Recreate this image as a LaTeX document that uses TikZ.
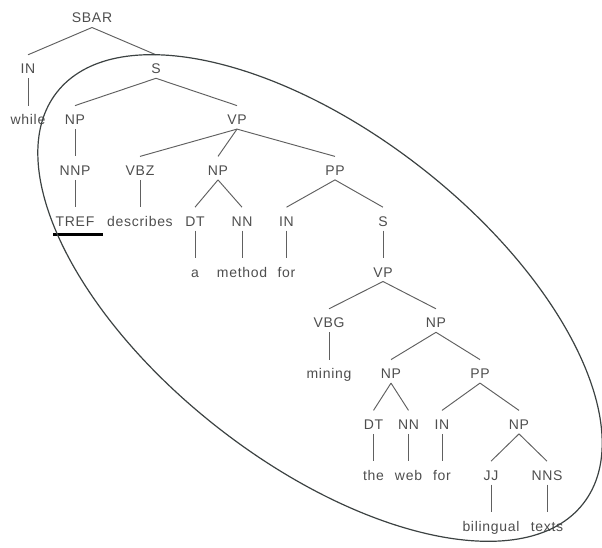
\documentclass[tikz,border=0pt]{standalone}
\usepackage{fontspec}
\setmainfont{Liberation Sans}[LetterSpace=5]
\usetikzlibrary{calc}
\definecolor{labelgray}{RGB}{78,78,78}
\definecolor{edgegray}{RGB}{96,96,96}
\definecolor{ringgray}{RGB}{60,66,66}
\tikzset{
  lbl/.style={anchor=base, inner sep=0pt, text=labelgray,
              font=\fontsize{14}{16}\selectfont},
  edge/.style={draw=edgegray, line width=0.95pt},
  ring/.style={draw=ringgray, line width=1.2pt},
  mark line/.style={draw=black, line width=3pt}
}
% parent bottom to child top
\newcommand\treeedge[2]{\draw[edge] ([yshift=-4.5pt]#1.base) -- ([yshift=19pt]#2.base);}
\begin{document}
\begin{tikzpicture}[x=1pt, y=-1pt]
\useasboundingbox (0,0) rectangle (602,548);
\def\rA{23}\def\rB{73.8}\def\rC{124.6}\def\rD{175.4}\def\rE{226.2}
\def\rF{277}\def\rG{327.8}\def\rH{378.6}\def\rI{429.4}\def\rJ{480.2}\def\rK{531}
% tree labels
\node[lbl] (sbar) at (92,\rA) {SBAR};
\node[lbl] (in1) at (28,\rB) {IN};
\node[lbl] (s1) at (156,\rB) {S};
\node[lbl] (while) at (28,\rC) {while};
\node[lbl] (np1) at (75,\rC) {NP};
\node[lbl] (vp1) at (237,\rC) {VP};
\node[lbl] (nnp) at (75,\rD) {NNP};
\node[lbl] (vbz) at (140,\rD) {VBZ};
\node[lbl] (np2) at (218,\rD) {NP};
\node[lbl] (pp1) at (335,\rD) {PP};
\node[lbl] (tref) at (75,\rE) {TREF};
\node[lbl] (describes) at (140,\rE) {describes};
\node[lbl] (dt1) at (195,\rE) {DT};
\node[lbl] (nn1) at (242,\rE) {NN};
\node[lbl] (in2) at (286.5,\rE) {IN};
\node[lbl] (s2) at (383,\rE) {S};
\node[lbl] (a) at (195,\rF) {a};
\node[lbl] (method) at (242,\rF) {method};
\node[lbl] (for1) at (286.5,\rF) {for};
\node[lbl] (vp2) at (383,\rF) {VP};
\node[lbl] (vbg) at (329,\rG) {VBG};
\node[lbl] (np3) at (436,\rG) {NP};
\node[lbl] (mining) at (329,\rH) {mining};
\node[lbl] (np4) at (391,\rH) {NP};
\node[lbl] (pp2) at (480,\rH) {PP};
\node[lbl] (dt2) at (373.5,\rI) {DT};
\node[lbl] (nn2) at (408.5,\rI) {NN};
\node[lbl] (in3) at (442,\rI) {IN};
\node[lbl] (np5) at (519,\rI) {NP};
\node[lbl] (the) at (373.5,\rJ) {the};
\node[lbl] (web) at (408.5,\rJ) {web};
\node[lbl] (for2) at (442,\rJ) {for};
\node[lbl] (jj) at (491,\rJ) {JJ};
\node[lbl] (nns) at (547,\rJ) {NNS};
\node[lbl] (bilingual) at (491,\rK) {bilingual};
\node[lbl] (texts) at (547,\rK) {texts};
% branches
\treeedge{sbar}{in1}\treeedge{sbar}{s1}
\treeedge{in1}{while}
\treeedge{s1}{np1}\treeedge{s1}{vp1}
\treeedge{np1}{nnp}\treeedge{nnp}{tref}
\treeedge{vp1}{vbz}\treeedge{vp1}{np2}\treeedge{vp1}{pp1}
\treeedge{vbz}{describes}
\treeedge{np2}{dt1}\treeedge{np2}{nn1}
\treeedge{dt1}{a}\treeedge{nn1}{method}
\treeedge{pp1}{in2}\treeedge{pp1}{s2}
\treeedge{in2}{for1}\treeedge{s2}{vp2}
\treeedge{vp2}{vbg}\treeedge{vp2}{np3}
\treeedge{vbg}{mining}
\treeedge{np3}{np4}\treeedge{np3}{pp2}
\treeedge{np4}{dt2}\treeedge{np4}{nn2}
\treeedge{dt2}{the}\treeedge{nn2}{web}
\treeedge{pp2}{in3}\treeedge{pp2}{np5}
\treeedge{in3}{for2}
\treeedge{np5}{jj}\treeedge{np5}{nns}
\treeedge{jj}{bilingual}\treeedge{nns}{texts}
% underline of TREF
\draw[mark line] ([xshift=-21.7pt,yshift=-8pt]tref.base) -- ([xshift=27.7pt,yshift=-8pt]tref.base);
% ring round the embedded clause
\coordinate (ringc) at (320,298);
\draw[ring, rotate around={-38:(ringc)}] (ringc) ellipse [x radius=334pt, y radius=165pt];
\end{tikzpicture}
\end{document}
